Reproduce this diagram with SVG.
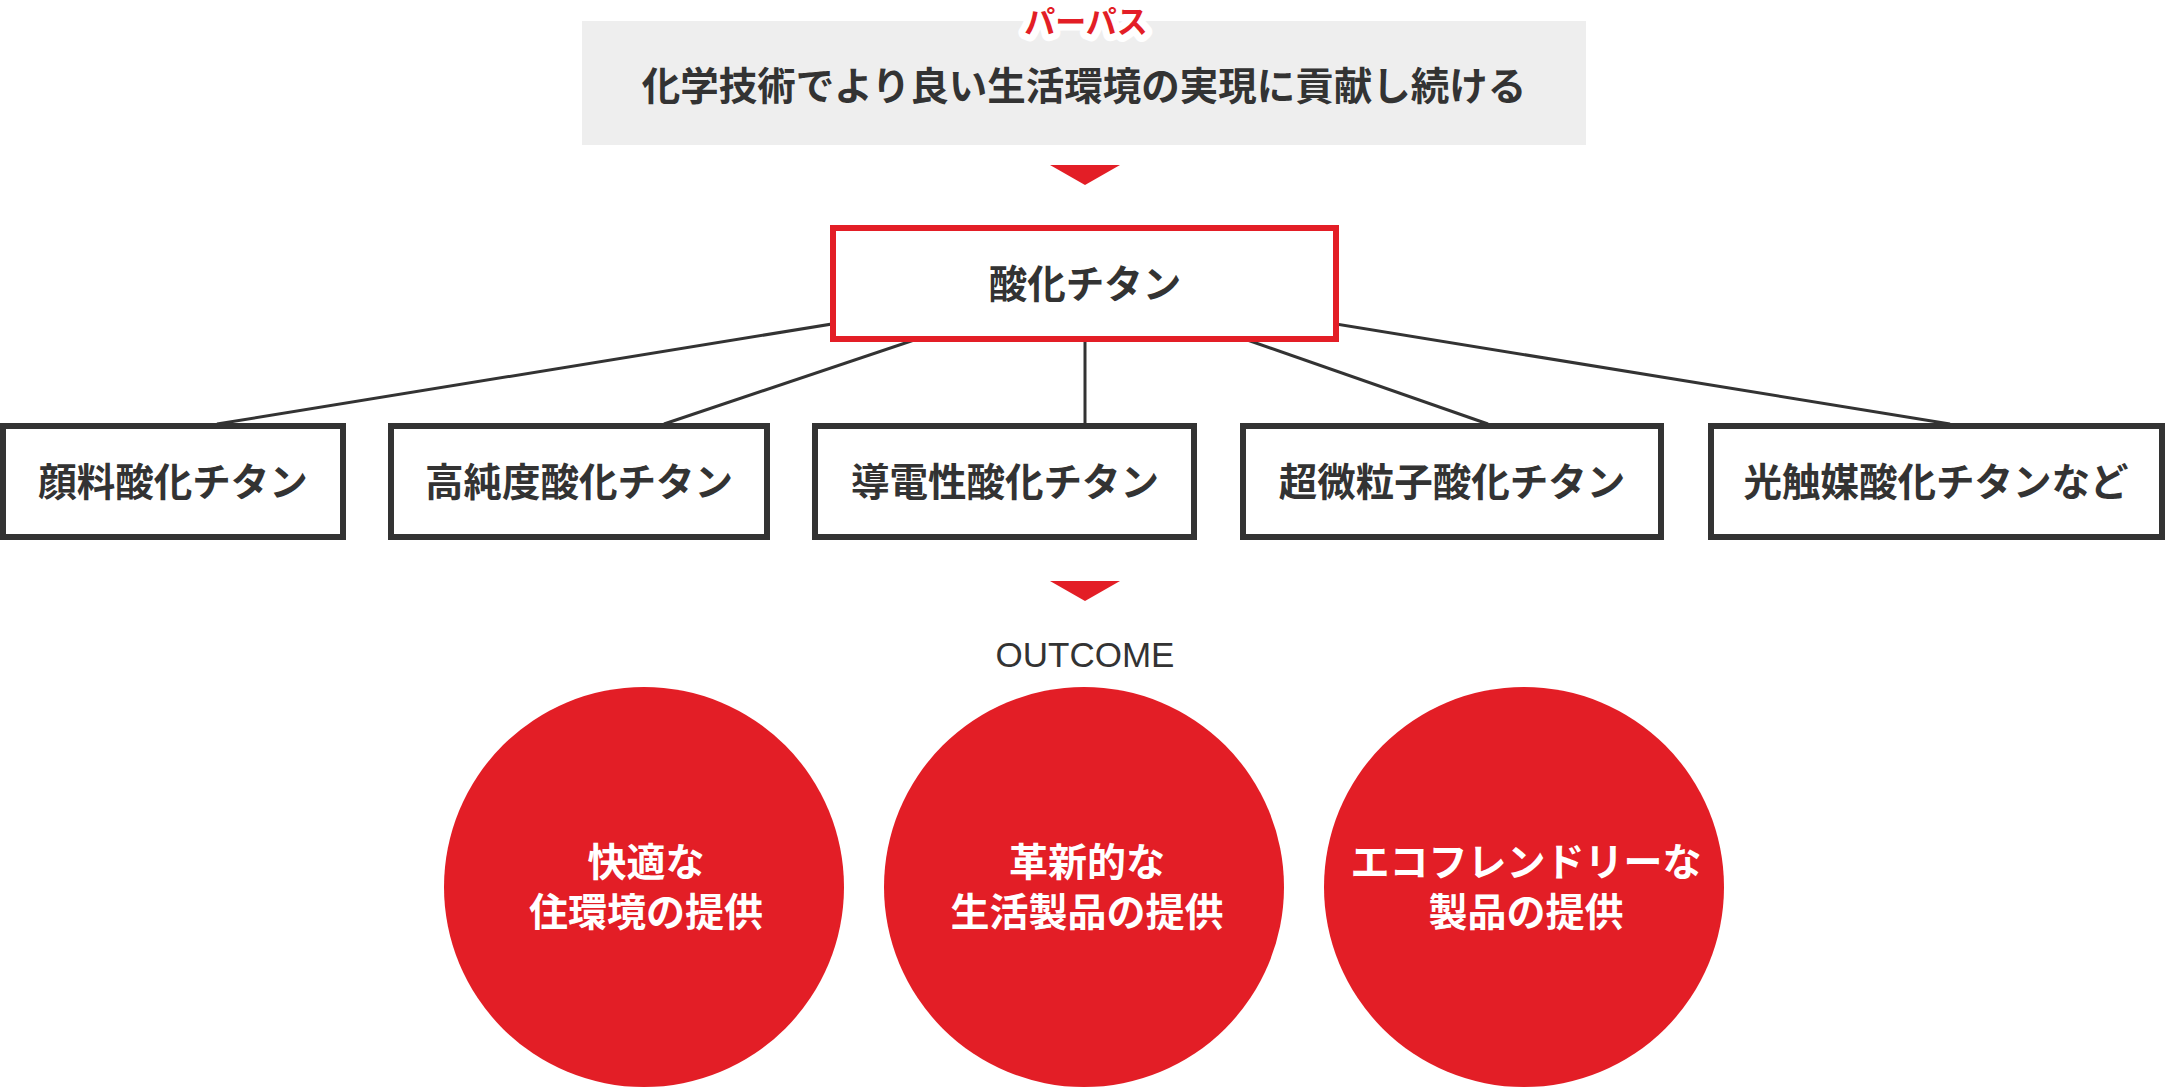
<svg xmlns="http://www.w3.org/2000/svg" width="2168" height="1087" viewBox="0 0 2168 1087">
<style>
.jp{font-family:"Noto Sans CJK JP","Noto Sans CJK SC",sans-serif;font-weight:700;text-anchor:middle}
.dark{fill:#333333}
.box{fill:#ffffff;stroke:#333333;stroke-width:6}
.conn{stroke:#333333;stroke-width:3;fill:none}
.red{fill:#e31e26}
.wt{fill:#ffffff}
</style>
<rect width="2168" height="1087" fill="#ffffff"/>
<g id="purpose">
<rect x="582" y="21" width="1004" height="124" fill="#eeeeee"/>
<text class="jp" x="1086" y="33" font-size="31" fill="#e31e26" stroke="#ffffff" stroke-width="14" stroke-linejoin="round" paint-order="stroke">パーパス</text>
<text class="jp dark" x="1084" y="100" font-size="38.5">化学技術でより良い生活環境の実現に貢献し続ける</text>
</g>
<g id="arrow1"><polygon class="red" points="1050,165 1120,165 1085,185"/></g>
<g id="connectors">
<line class="conn" x1="1084" y1="283" x2="217" y2="424"/>
<line class="conn" x1="1084" y1="283" x2="664" y2="424"/>
<line class="conn" x1="1085" y1="283" x2="1085" y2="424"/>
<line class="conn" x1="1084" y1="283" x2="1488" y2="424"/>
<line class="conn" x1="1084" y1="283" x2="1950" y2="424"/>
</g>
<g id="titanium">
<rect x="833" y="228" width="503" height="111" fill="#ffffff" stroke="#e31e26" stroke-width="6"/>
<text class="jp dark" x="1085" y="298" font-size="38.5">酸化チタン</text>
</g>
<g id="n1"><rect class="box" x="3" y="426" width="340" height="111"/><text class="jp dark" x="173" y="496" font-size="38.5">顔料酸化チタン</text></g>
<g id="n2"><rect class="box" x="391" y="426" width="376" height="111"/><text class="jp dark" x="579" y="496" font-size="38.5">高純度酸化チタン</text></g>
<g id="n3"><rect class="box" x="815" y="426" width="379" height="111"/><text class="jp dark" x="1005" y="496" font-size="38.5">導電性酸化チタン</text></g>
<g id="n4"><rect class="box" x="1243" y="426" width="418" height="111"/><text class="jp dark" x="1452" y="496" font-size="38.5">超微粒子酸化チタン</text></g>
<g id="n5"><rect class="box" x="1711" y="426" width="451" height="111"/><text class="jp dark" x="1936" y="496" font-size="38.5">光触媒酸化チタンなど</text></g>
<g id="arrow2"><polygon class="red" points="1050,581 1120,581 1085,601"/></g>
<g id="outcome"><text x="1085" y="667" font-family="'Liberation Sans',Arial,sans-serif" font-size="35" fill="#333333" text-anchor="middle">OUTCOME</text></g>
<g id="c1"><circle class="red" cx="644" cy="887" r="200"/><text class="jp wt" x="646" y="876" font-size="39">快適な</text><text class="jp wt" x="646" y="926" font-size="39">住環境の提供</text></g>
<g id="c2"><circle class="red" cx="1084" cy="887" r="200"/><text class="jp wt" x="1087" y="876" font-size="39">革新的な</text><text class="jp wt" x="1087" y="926" font-size="39">生活製品の提供</text></g>
<g id="c3"><circle class="red" cx="1524" cy="887" r="200"/><text class="jp wt" x="1526" y="876" font-size="39">エコフレンドリーな</text><text class="jp wt" x="1526" y="926" font-size="39">製品の提供</text></g>
</svg>
